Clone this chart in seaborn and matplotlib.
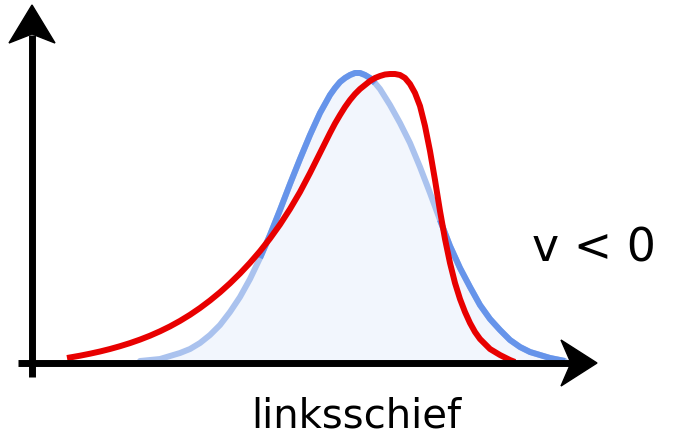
import numpy as np
import pandas as pd
import seaborn as sns
import matplotlib
matplotlib.use("Agg")
import matplotlib.pyplot as plt
from matplotlib.patches import Polygon

# ---- data (x position, height above baseline) ----
blue_x = [140, 150, 160, 170, 180, 190, 200, 210, 220, 230, 240, 250, 260, 270,
          280, 290, 300, 305, 310, 315, 320, 325, 330, 335, 340, 345, 350, 355,
          360, 365, 370, 375, 380, 385, 390, 395, 400, 405, 410, 415, 420, 425,
          430, 440, 450, 460, 470, 480, 490, 500, 510, 520, 530, 540, 550,
          560, 565]
blue_y = [2, 3, 4, 7, 10, 14, 20, 28, 38, 51, 66, 84, 105, 128,
          153, 179, 204, 216, 228, 239, 250, 259, 268, 275, 281, 285, 288, 290,
          290, 288, 285, 280, 274, 266, 258, 249, 240, 230, 220, 208, 196, 183,
          170, 143, 117, 95, 76, 58, 44, 33, 23, 16, 11, 8, 5,
          3, 2]

red_x = [67, 80, 90, 100, 110, 120, 130, 140, 150, 160, 170, 180, 190, 200,
         210, 220, 230, 240, 250, 260, 270, 280, 290, 300, 310, 320, 330, 335,
         340, 345, 350, 355, 360, 365, 370, 375, 380, 385, 390, 395, 400, 405,
         410, 415, 420, 425, 430, 435, 440, 445, 450, 455, 460, 465, 470, 475,
         480, 490, 500, 510, 515]
red_y = [5, 7.3, 9.3, 11.5, 14, 16.8, 19.9, 23.4, 27.3, 31.7, 36.6, 42.1, 48.2, 55,
         62.5, 70.7, 79.7, 89.5, 100.2, 111.8, 124.5, 138.5, 154, 171, 190, 210, 230, 239.5,
         248, 256, 263, 269, 274, 278, 282, 285, 287, 288.5, 289, 289, 288, 285,
         279, 270, 257, 237, 212, 183, 152, 124, 100, 80, 64, 51, 40, 31,
         24, 14, 8, 3, 1]

label_bottom = "linksschief"
label_right = "v < 0"

# ---- figure ----
sns.set_style("white")
plt.rcParams['font.family'] = ['DejaVu Sans']
fig = plt.figure(figsize=(6.77, 4.38), dpi=100)
ax = fig.add_axes([0, 0, 1, 1])
ax.set_xlim(0, 677)
ax.set_ylim(-75, 363)
ax.axis("off")

bx = np.array(blue_x, dtype=float)
by = np.array(blue_y, dtype=float)
rx = np.array(red_x, dtype=float)
ry = np.array(red_y, dtype=float)

# light fill under the symmetric curve
ax.fill_between(bx, 0, by, color="#f2f6fd", zorder=1, linewidth=0)

# axes with arrow heads
ax.plot([32, 32], [-14, 328], color="black", lw=5, solid_capstyle="butt", zorder=2)
ax.add_patch(Polygon([[32, 358], [9, 320], [32, 329], [55, 320]],
                     closed=True, color="black", zorder=2))
ax.plot([18, 572], [0, 0], color="black", lw=5, solid_capstyle="butt", zorder=5)
ax.add_patch(Polygon([[597, 0], [561, 23], [571, 0], [561, -23]],
                     closed=True, color="black", zorder=5))

LW = 4.3

# blue curve: light where it lies inside the red curve, strong elsewhere
df_blue = pd.DataFrame({"x": bx, "y": by})
sns.lineplot(data=df_blue, x="x", y="y", ax=ax, color="#aac2ee", lw=LW,
             sort=False, estimator=None, zorder=3)
ax.lines[-1].set_solid_joinstyle("round")
red_at_blue = np.interp(bx, rx, ry, left=0, right=0)
above = by >= red_at_blue
mask = above.copy()
mask[1:] |= above[:-1]
mask[:-1] |= above[1:]
by_strong = np.where(mask, by, np.nan)
ax.plot(bx, by_strong, color="#6694ea", lw=LW, zorder=3.5,
        solid_capstyle="butt", solid_joinstyle="round")

# red skewed curve
df_red = pd.DataFrame({"x": rx, "y": ry})
sns.lineplot(data=df_red, x="x", y="y", ax=ax, color="#e80000", lw=LW,
             sort=False, estimator=None, zorder=4)
ax.lines[-1].set_solid_capstyle("butt")
ax.lines[-1].set_solid_joinstyle("round")

ax.text(532, 101, label_right, fontsize=33, ha="left", va="baseline",
        color="black")
ax.text(356, -65, label_bottom, fontsize=29, ha="center", va="baseline",
        color="black")

if ax.get_legend() is not None:
    ax.get_legend().remove()

fig.savefig("out.png", dpi=100)
